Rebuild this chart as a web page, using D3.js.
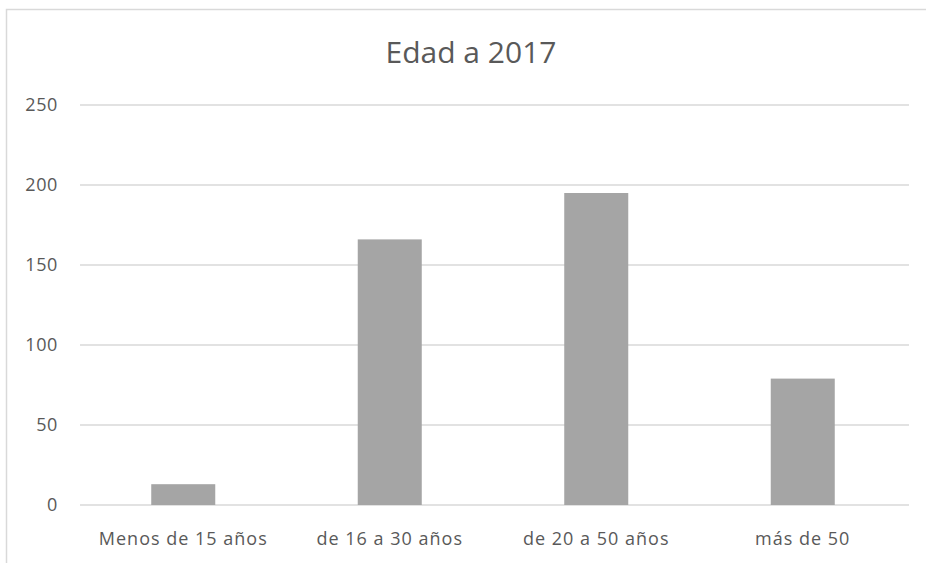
<!DOCTYPE html>
<html>
<head>
<meta charset="utf-8">
<script src="https://cdn.jsdelivr.net/npm/d3@7"></script>
<style>
  html, body { margin: 0; padding: 0; background: #fff; }
  svg { display: block; }
  text { font-family: "Open Sans", sans-serif; fill: #595959; }
</style>
</head>
<body>
<svg id="chart" width="926" height="563"></svg>
<script>
const title = "Edad a 2017";
const categories = ["Menos de 15 años", "de 16 a 30 años", "de 20 a 50 años", "más de 50"];
const values = [13, 166, 195, 79];
const yTicks = [0, 50, 100, 150, 200, 250];

const svg = d3.select("#chart");
const W = 926, H = 563;
const margin = {left: 80, right: 20, top: 105, bottom: 58};
const gridRight = 909;

// chart area border
svg.append("rect")
  .attr("x", 6.5).attr("y", 9.5)
  .attr("width", 1000).attr("height", 1000)
  .attr("fill", "#fff")
  .attr("stroke", "#d9d9d9")
  .attr("stroke-width", 1.5);

const x = d3.scaleBand()
  .domain(categories)
  .range([margin.left, W - margin.right])
  .paddingInner(0.69)
  .paddingOuter(0.345);

const y = d3.scaleLinear()
  .domain([0, 250])
  .range([H - margin.bottom, margin.top]);

// gridlines
svg.append("g")
  .selectAll("line")
  .data(yTicks)
  .join("line")
  .attr("x1", margin.left).attr("x2", gridRight)
  .attr("y1", d => y(d)).attr("y2", d => y(d))
  .attr("stroke", "#d9d9d9")
  .attr("stroke-width", 1.3);

// y axis labels
const yAxis = d3.axisLeft(y).tickValues(yTicks).tickSize(0).tickPadding(0);
const yg = svg.append("g")
  .attr("transform", `translate(${margin.left - 22},0)`)
  .call(yAxis);
yg.select(".domain").remove();
yg.selectAll("text")
  .attr("font-family", "Open Sans, sans-serif")
  .attr("font-size", 18)
  .attr("letter-spacing", "0.6px")
  .attr("fill", "#595959");

// bars
svg.append("g")
  .selectAll("rect")
  .data(values)
  .join("rect")
  .attr("x", (d, i) => x(categories[i]))
  .attr("y", d => y(d))
  .attr("width", x.bandwidth())
  .attr("height", d => y(0) - y(d))
  .attr("fill", "#a5a5a5");

// x axis labels
const xAxis = d3.axisBottom(x).tickSize(0).tickPadding(0);
const xg = svg.append("g")
  .attr("transform", `translate(0,${y(0) + 27})`)
  .call(xAxis);
xg.select(".domain").remove();
xg.selectAll("text")
  .attr("font-family", "Open Sans, sans-serif")
  .attr("font-size", 18)
  .attr("letter-spacing", "1px")
  .attr("fill", "#595959");

// title
svg.append("text")
  .attr("x", 471)
  .attr("y", 63)
  .attr("text-anchor", "middle")
  .attr("font-size", 30)
  .attr("fill", "#595959")
  .text(title);
</script>
</body>
</html>
